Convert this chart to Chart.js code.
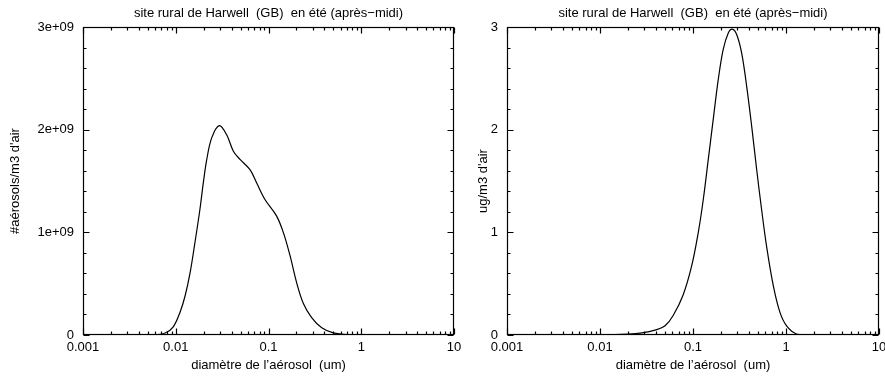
<!DOCTYPE html>
<html>
<head>
<meta charset="utf-8">
<script src="https://cdn.jsdelivr.net/npm/chart.js@4"></script>
<style>
  html, body { margin: 0; padding: 0; background: #fff; }
  #wrap { position: relative; width: 885px; height: 376px; }
  #c1 { position: absolute; left: 0; top: 0; }
  #c2 { position: absolute; left: 470px; top: 0; }
</style>
</head>
<body>
<div id="wrap">
  <canvas id="c1" width="470" height="376"></canvas>
  <canvas id="c2" width="415" height="376"></canvas>
</div>
<script>
const titleText = 'site rural de Harwell  (GB)  en été (après\u2212midi)';
const xTitle = 'diamètre de l\u2019aérosol  (um)';
const xTicks = [0.001, 0.01, 0.1, 1, 10];

// number distribution (aerosols / m3)
const numDiam = [0.001, 0.0032, 0.0057, 0.0077, 0.0094, 0.0111, 0.0126, 0.0143, 0.0161, 0.0182,
                 0.0198, 0.0216, 0.0244, 0.0295, 0.0354, 0.0418, 0.0493, 0.0632, 0.0746, 0.0916,
                 0.122, 0.145, 0.171, 0.201, 0.237, 0.292, 0.375, 0.5, 0.697, 1, 10];
const numValues = [0, 0, 0.001e9, 0.02e9, 0.08e9, 0.22e9, 0.38e9, 0.61e9, 0.90e9, 1.22e9,
                   1.48e9, 1.71e9, 1.92e9, 2.04e9, 1.95e9, 1.79e9, 1.71e9, 1.61e9, 1.48e9, 1.32e9,
                   1.16e9, 0.995e9, 0.77e9, 0.51e9, 0.31e9, 0.17e9, 0.07e9, 0.02e9, 0.005e9, 0, 0];
const numYTicks = [0, 1e9, 2e9, 3e9];

// mass distribution (ug / m3)
const massDiam = [0.001, 0.01, 0.02, 0.0282, 0.0398, 0.0501, 0.0612, 0.0783, 0.0966, 0.114,
                  0.129, 0.146, 0.165, 0.187, 0.211, 0.239, 0.264, 0.294, 0.333, 0.378,
                  0.428, 0.484, 0.547, 0.619, 0.730, 0.861, 1.02, 1.30, 2.0, 10];
const massValues = [0, 0.001, 0.008, 0.02, 0.05, 0.09, 0.19, 0.39, 0.67, 1.0,
                    1.32, 1.71, 2.10, 2.49, 2.78, 2.94, 2.98, 2.93, 2.75, 2.42,
                    2.03, 1.61, 1.22, 0.86, 0.48, 0.22, 0.086, 0.01, 0, 0];
const massYTicks = [0, 1, 2, 3];

const FONT = { family: '"Liberation Sans", Arial, Helvetica, sans-serif', size: 13 };

// gnuplot style frame with inward major/minor ticks on all four sides
const framePlugin = {
  id: 'frame',
  afterDraw(chart, args, opts) {
    const { ctx, chartArea: a, scales: { x, y } } = chart;
    const L = Math.round(a.left) + 0.5, R = Math.round(a.right) - 0.5;
    const T = Math.round(a.top) + 0.5, B = Math.round(a.bottom) - 0.5;
    ctx.save();
    ctx.strokeStyle = '#000';
    ctx.lineWidth = 1.2;
    ctx.strokeRect(L, T, R - L, B - T);
    ctx.beginPath();
    const xtick = (v, len) => {
      const px = Math.round(x.getPixelForValue(v)) + 0.5;
      ctx.moveTo(px, B); ctx.lineTo(px, B - len);
      ctx.moveTo(px, T); ctx.lineTo(px, T + len);
    };
    const ytick = (v, len) => {
      const py = Math.round(y.getPixelForValue(v)) + 0.5;
      ctx.moveTo(L, py); ctx.lineTo(L + len, py);
      ctx.moveTo(R, py); ctx.lineTo(R - len, py);
    };
    for (let d = 0.001; d < 10; d *= 10) {
      xtick(d, 6);
      for (let k = 2; k <= 9; k++) xtick(d * k, 3);
    }
    xtick(10, 6);
    const yMax = opts.yMax, step = yMax / 3;
    for (let i = 0; i <= 3; i++) ytick(i * step, 6);
    for (let i = 0; i < 15; i++) if (i % 5) ytick(i * step / 5, 3);
    ctx.stroke();
    ctx.restore();
  }
};

function makeChart(el, diam, values, yTicks, yLabel, yFmt, yWidth, yTitlePad, rightPad) {
  return new Chart(el, {
    type: 'line',
    data: {
      datasets: [{
        data: diam.map((d, i) => ({ x: d, y: values[i] })),
        borderColor: '#000',
        borderWidth: 1.2,
        pointRadius: 0,
        fill: false,
        tension: 0.35
      }]
    },
    options: {
      responsive: false,
      animation: false,
      layout: { padding: { left: 0, right: rightPad, top: 0, bottom: 0 } },
      plugins: {
        legend: { display: false },
        tooltip: { enabled: false },
        title: {
          display: true,
          text: titleText,
          color: '#000',
          font: Object.assign({ weight: 'normal' }, FONT),
          fullSize: false,
          padding: { top: 5.5, bottom: 5.9 }
        },
        frame: { yMax: yTicks[yTicks.length - 1] }
      },
      scales: {
        x: {
          type: 'logarithmic',
          min: 0.001,
          max: 10,
          grid: { display: false, drawTicks: false },
          border: { display: false },
          afterBuildTicks: s => { s.ticks = xTicks.map(v => ({ value: v })); },
          afterFit: s => { s.height = 41; s.paddingLeft = 0; s.paddingRight = 0; },
          ticks: {
            color: '#000', font: FONT, padding: 5, maxRotation: 0, autoSkip: false,
            callback: v => String(v)
          },
          title: { display: true, text: xTitle, color: '#000', font: FONT, padding: { top: 0, bottom: 3.2 } }
        },
        y: {
          min: 0,
          max: yTicks[yTicks.length - 1],
          grid: { display: false, drawTicks: false },
          border: { display: false },
          afterBuildTicks: s => { s.ticks = yTicks.map(v => ({ value: v })); },
          afterFit: s => { s.width = yWidth; },
          ticks: { color: '#000', font: FONT, padding: 9, callback: yFmt },
          title: { display: true, text: yLabel, color: '#000', font: FONT, padding: { top: yTitlePad, bottom: 0 } }
        }
      }
    },
    plugins: [framePlugin]
  });
}

makeChart(document.getElementById('c1'), numDiam, numValues, numYTicks,
  '#aérosols/m3 d\'air', v => v === 0 ? '0' : (v / 1e9) + 'e+09', 83, 7.5, 16);
makeChart(document.getElementById('c2'), massDiam, massValues, massYTicks,
  'ug/m3 d\'air', v => String(v), 37, 5.2, 6);
</script>
</body>
</html>
